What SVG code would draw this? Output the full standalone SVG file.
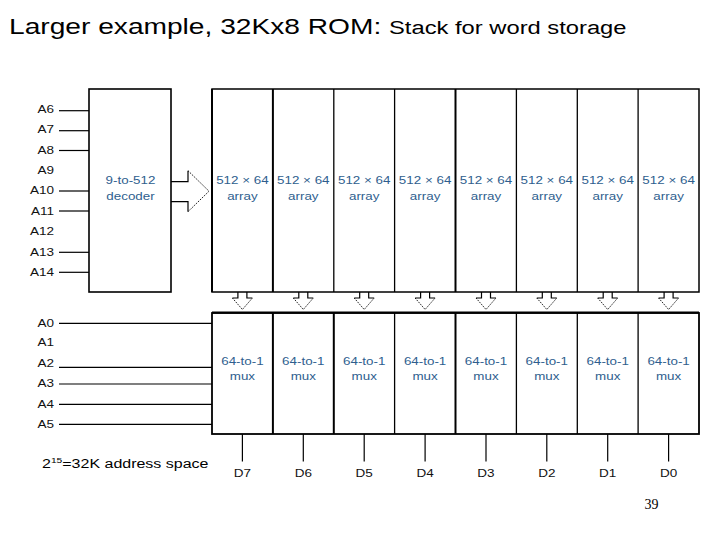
<svg xmlns="http://www.w3.org/2000/svg" width="720" height="540" viewBox="0 0 720 540">
<style>
text{font-family:"Liberation Sans",Arial,sans-serif;}
.lbl{font-size:10.8px;fill:#111;}
.blue{font-size:10.8px;fill:#2e5e8e;}
.box{fill:#fff;stroke:#000;stroke-width:1.6;}
.div{stroke:#000;stroke-width:1.3;}
.thk{stroke:#000;stroke-width:2;}
.wire{stroke:#000;stroke-width:1.2;fill:none;}
.dot{stroke:#000;stroke-width:0.9;stroke-dasharray:1.5 1.2;fill:none;}
</style>
<rect width="720" height="540" fill="#fff"/>
<g id="title">
<text transform="translate(9,34) scale(1.28,1)" font-size="22" fill="#000">Larger example, 32Kx8 ROM:</text>
<text transform="translate(389,34) scale(1.32,1)" font-size="18" fill="#000">Stack for word storage</text>
</g>
<g id="connectors">
<line class="wire" x1="59" y1="110.7" x2="89" y2="110.7"/>
<line class="wire" x1="59" y1="130.7" x2="89" y2="130.7"/>
<line class="wire" x1="59" y1="150.5" x2="89" y2="150.5"/>
<line class="wire" x1="59" y1="191" x2="89" y2="191"/>
<line class="wire" x1="59" y1="211" x2="89" y2="211"/>
<line class="wire" x1="59" y1="252.3" x2="89" y2="252.3"/>
<line class="wire" x1="59" y1="272.3" x2="89" y2="272.3"/>
<line class="wire" x1="59" y1="323.3" x2="212" y2="323.3"/>
<line class="wire" x1="59" y1="367.3" x2="212" y2="367.3"/>
<line class="wire" x1="59" y1="384" x2="212" y2="384"/>
<line class="wire" x1="59" y1="404.3" x2="212" y2="404.3"/>
<line class="wire" x1="59" y1="424.3" x2="212" y2="424.3"/>
<polyline class="wire" points="171,181.7 188,181.7 188,170.7"/>
<polyline class="wire" points="171,201.7 188,201.7 188,211.7"/>
<polyline class="dot" points="188,170.7 209,191.2 188,211.7"/>
<g id="downarrows">
<g transform="translate(242.4,0)"><polyline class="wire" points="-4.5,292 -4.5,298 -10,298"/><polyline class="wire" points="4.5,292 4.5,298 10,298"/><polyline class="dot" points="-10,298 0,309.5 10,298"/></g>
<g transform="translate(303.3,0)"><polyline class="wire" points="-4.5,292 -4.5,298 -10,298"/><polyline class="wire" points="4.5,292 4.5,298 10,298"/><polyline class="dot" points="-10,298 0,309.5 10,298"/></g>
<g transform="translate(364.2,0)"><polyline class="wire" points="-4.5,292 -4.5,298 -10,298"/><polyline class="wire" points="4.5,292 4.5,298 10,298"/><polyline class="dot" points="-10,298 0,309.5 10,298"/></g>
<g transform="translate(425.1,0)"><polyline class="wire" points="-4.5,292 -4.5,298 -10,298"/><polyline class="wire" points="4.5,292 4.5,298 10,298"/><polyline class="dot" points="-10,298 0,309.5 10,298"/></g>
<g transform="translate(486,0)"><polyline class="wire" points="-4.5,292 -4.5,298 -10,298"/><polyline class="wire" points="4.5,292 4.5,298 10,298"/><polyline class="dot" points="-10,298 0,309.5 10,298"/></g>
<g transform="translate(546.8,0)"><polyline class="wire" points="-4.5,292 -4.5,298 -10,298"/><polyline class="wire" points="4.5,292 4.5,298 10,298"/><polyline class="dot" points="-10,298 0,309.5 10,298"/></g>
<g transform="translate(607.7,0)"><polyline class="wire" points="-4.5,292 -4.5,298 -10,298"/><polyline class="wire" points="4.5,292 4.5,298 10,298"/><polyline class="dot" points="-10,298 0,309.5 10,298"/></g>
<g transform="translate(668.6,0)"><polyline class="wire" points="-4.5,292 -4.5,298 -10,298"/><polyline class="wire" points="4.5,292 4.5,298 10,298"/><polyline class="dot" points="-10,298 0,309.5 10,298"/></g>
</g>
<line class="wire" x1="242.4" y1="434" x2="242.4" y2="461.5"/>
<line class="wire" x1="303.3" y1="434" x2="303.3" y2="461.5"/>
<line class="wire" x1="364.2" y1="434" x2="364.2" y2="461.5"/>
<line class="wire" x1="425.1" y1="434" x2="425.1" y2="461.5"/>
<line class="wire" x1="486" y1="434" x2="486" y2="461.5"/>
<line class="wire" x1="546.8" y1="434" x2="546.8" y2="461.5"/>
<line class="wire" x1="607.7" y1="434" x2="607.7" y2="461.5"/>
<line class="wire" x1="668.6" y1="434" x2="668.6" y2="461.5"/>
</g>
<g id="address-labels" text-anchor="end">
<text class="lbl" transform="translate(54,112.8) scale(1.25,1)">A6</text>
<text class="lbl" transform="translate(54,133.2) scale(1.25,1)">A7</text>
<text class="lbl" transform="translate(54,153.6) scale(1.25,1)">A8</text>
<text class="lbl" transform="translate(54,174) scale(1.25,1)">A9</text>
<text class="lbl" transform="translate(54,194.4) scale(1.25,1)">A10</text>
<text class="lbl" transform="translate(54,214.8) scale(1.25,1)">A11</text>
<text class="lbl" transform="translate(54,235.2) scale(1.25,1)">A12</text>
<text class="lbl" transform="translate(54,255.6) scale(1.25,1)">A13</text>
<text class="lbl" transform="translate(54,276) scale(1.25,1)">A14</text>
<text class="lbl" transform="translate(54,326.5) scale(1.25,1)">A0</text>
<text class="lbl" transform="translate(54,345.5) scale(1.25,1)">A1</text>
<text class="lbl" transform="translate(54,366.5) scale(1.25,1)">A2</text>
<text class="lbl" transform="translate(54,387.1) scale(1.25,1)">A3</text>
<text class="lbl" transform="translate(54,407.8) scale(1.25,1)">A4</text>
<text class="lbl" transform="translate(54,427.8) scale(1.25,1)">A5</text>
</g>
<g id="decoder">
<rect class="box" x="89" y="89" width="82" height="203"/>
<text class="blue" text-anchor="middle" transform="translate(130.5,184) scale(1.24,1)">9-to-512</text>
<text class="blue" text-anchor="middle" transform="translate(130.5,199.5) scale(1.24,1)">decoder</text>
</g>
<g id="arrays">
<rect x="212" y="89" width="487" height="203" fill="#fff" stroke="#000" stroke-width="1.5"/>
<line class="thk" x1="212" y1="89" x2="212" y2="292"/>
<line class="thk" x1="272.9" y1="89" x2="272.9" y2="292"/>
<line class="div" x1="333.8" y1="89" x2="333.8" y2="292"/>
<line class="div" x1="394.6" y1="89" x2="394.6" y2="292"/>
<line class="thk" x1="455.5" y1="89" x2="455.5" y2="292"/>
<line class="div" x1="516.4" y1="89" x2="516.4" y2="292"/>
<line class="div" x1="577.3" y1="89" x2="577.3" y2="292"/>
<line class="div" x1="638.1" y1="89" x2="638.1" y2="292"/>
<g text-anchor="middle">
<text class="blue" transform="translate(242.4,184) scale(1.24,1)">512 × 64</text><text class="blue" transform="translate(242.4,199.5) scale(1.24,1)">array</text>
<text class="blue" transform="translate(303.3,184) scale(1.24,1)">512 × 64</text><text class="blue" transform="translate(303.3,199.5) scale(1.24,1)">array</text>
<text class="blue" transform="translate(364.2,184) scale(1.24,1)">512 × 64</text><text class="blue" transform="translate(364.2,199.5) scale(1.24,1)">array</text>
<text class="blue" transform="translate(425.1,184) scale(1.24,1)">512 × 64</text><text class="blue" transform="translate(425.1,199.5) scale(1.24,1)">array</text>
<text class="blue" transform="translate(486,184) scale(1.24,1)">512 × 64</text><text class="blue" transform="translate(486,199.5) scale(1.24,1)">array</text>
<text class="blue" transform="translate(546.8,184) scale(1.24,1)">512 × 64</text><text class="blue" transform="translate(546.8,199.5) scale(1.24,1)">array</text>
<text class="blue" transform="translate(607.7,184) scale(1.24,1)">512 × 64</text><text class="blue" transform="translate(607.7,199.5) scale(1.24,1)">array</text>
<text class="blue" transform="translate(668.6,184) scale(1.24,1)">512 × 64</text><text class="blue" transform="translate(668.6,199.5) scale(1.24,1)">array</text>
</g>
</g>
<g id="muxes">
<rect x="212" y="313" width="487" height="121" fill="#fff" stroke="#000" stroke-width="1.8"/>
<line class="thk" x1="212" y1="312.5" x2="699" y2="312.5"/>
<line class="thk" x1="272.9" y1="313" x2="272.9" y2="434"/>
<line class="thk" x1="333.8" y1="313" x2="333.8" y2="434"/>
<line class="div" x1="394.6" y1="313" x2="394.6" y2="434"/>
<line class="thk" x1="455.5" y1="313" x2="455.5" y2="434"/>
<line class="div" x1="516.4" y1="313" x2="516.4" y2="434"/>
<line class="div" x1="577.3" y1="313" x2="577.3" y2="434"/>
<line class="div" x1="638.1" y1="313" x2="638.1" y2="434"/>
<g text-anchor="middle">
<text class="blue" transform="translate(242.4,364.5) scale(1.24,1)">64-to-1</text><text class="blue" transform="translate(242.4,379.5) scale(1.24,1)">mux</text>
<text class="blue" transform="translate(303.3,364.5) scale(1.24,1)">64-to-1</text><text class="blue" transform="translate(303.3,379.5) scale(1.24,1)">mux</text>
<text class="blue" transform="translate(364.2,364.5) scale(1.24,1)">64-to-1</text><text class="blue" transform="translate(364.2,379.5) scale(1.24,1)">mux</text>
<text class="blue" transform="translate(425.1,364.5) scale(1.24,1)">64-to-1</text><text class="blue" transform="translate(425.1,379.5) scale(1.24,1)">mux</text>
<text class="blue" transform="translate(486,364.5) scale(1.24,1)">64-to-1</text><text class="blue" transform="translate(486,379.5) scale(1.24,1)">mux</text>
<text class="blue" transform="translate(546.8,364.5) scale(1.24,1)">64-to-1</text><text class="blue" transform="translate(546.8,379.5) scale(1.24,1)">mux</text>
<text class="blue" transform="translate(607.7,364.5) scale(1.24,1)">64-to-1</text><text class="blue" transform="translate(607.7,379.5) scale(1.24,1)">mux</text>
<text class="blue" transform="translate(668.6,364.5) scale(1.24,1)">64-to-1</text><text class="blue" transform="translate(668.6,379.5) scale(1.24,1)">mux</text>
</g>
</g>
<g id="outputs" text-anchor="middle">
<text class="lbl" transform="translate(242.4,476.5) scale(1.25,1)">D7</text>
<text class="lbl" transform="translate(303.3,476.5) scale(1.25,1)">D6</text>
<text class="lbl" transform="translate(364.2,476.5) scale(1.25,1)">D5</text>
<text class="lbl" transform="translate(425.1,476.5) scale(1.25,1)">D4</text>
<text class="lbl" transform="translate(486,476.5) scale(1.25,1)">D3</text>
<text class="lbl" transform="translate(546.8,476.5) scale(1.25,1)">D2</text>
<text class="lbl" transform="translate(607.7,476.5) scale(1.25,1)">D1</text>
<text class="lbl" transform="translate(668.6,476.5) scale(1.25,1)">D0</text>
</g>
<g id="note">
<text transform="translate(42,467.5) scale(1.28,1)" font-size="12.5" fill="#000">2<tspan font-size="8" dy="-5">15</tspan><tspan dy="5">=32K address space</tspan></text>
</g>
<g id="page">
<text x="651.5" y="509" text-anchor="middle" font-size="14" fill="#000" style="font-family:'Liberation Serif','Times New Roman',serif">39</text>
</g>
</svg>
